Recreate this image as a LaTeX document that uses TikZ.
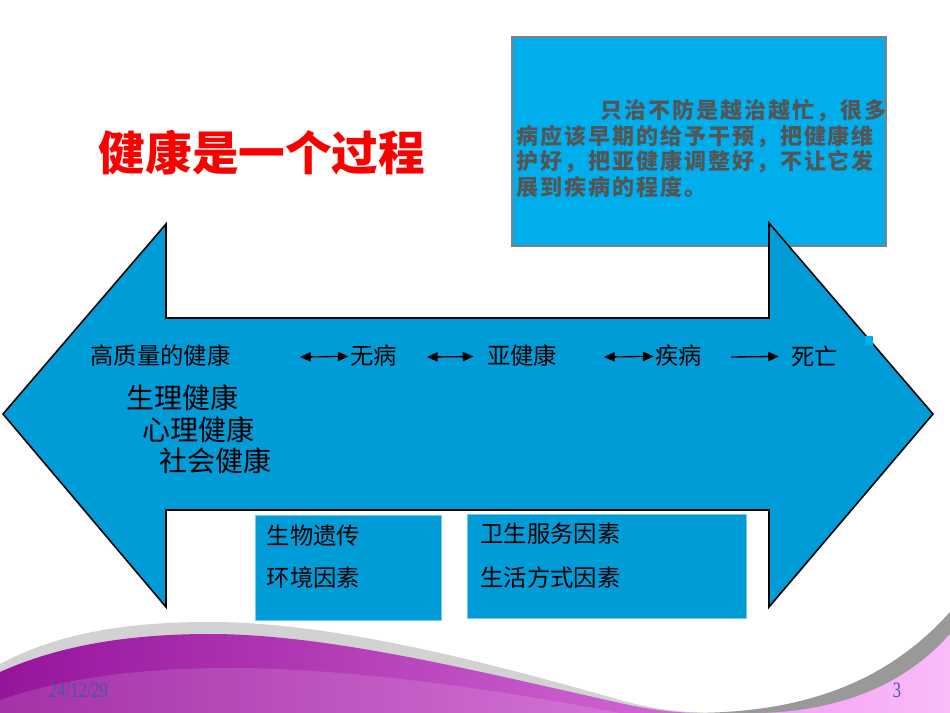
\documentclass[tikz,border=0pt]{standalone}
\usepackage{fontspec}
\setmainfont{Liberation Serif}
\newfontfamily\cjk{Noto Sans CJK SC}
\newfontfamily\cjkq[LetterSpace=9]{Noto Sans CJK SC}
\usetikzlibrary{arrows.meta}
\definecolor{arrowblue}{RGB}{0,156,216}
\definecolor{quoteblue}{RGB}{0,174,236}
\definecolor{quotegray}{RGB}{85,85,85}
\definecolor{boxedge}{RGB}{120,200,230}
\definecolor{titlered}{RGB}{250,0,0}
\definecolor{wavedark}{RGB}{150,20,155}
\definecolor{wavelight}{RGB}{212,105,215}
\definecolor{wavepink}{RGB}{245,160,245}
\definecolor{datecol}{RGB}{80,80,165}

\begin{document}
\begin{tikzpicture}[x=0.75pt, y=-0.75pt,
			>={Triangle[length=8pt, width=7pt]},
			lbl/.style={font=\cjk\fontsize{17.5}{21}\selectfont, inner sep=1pt},
			biglbl/.style={font=\cjk\fontsize{21}{25}\selectfont, inner sep=1pt},
			flow/.style={line width=1pt},
			factorbox/.style={fill=arrowblue, draw=boxedge, line width=0.6pt}]
			
			% Sfondo e cornice
			\fill[white] (0,0) rectangle (950,713);
			\useasboundingbox (0,0) rectangle (950,713);
			
			% Onda in basso
			\fill[gray!35] (0,664) .. controls (60,632) and (130,622) .. (210,622)
				.. controls (330,622) and (480,660) .. (620,700)
				.. controls (660,711) and (690,713) .. (720,713) -- (0,713) -- cycle;
			\shade[left color=wavedark, right color=wavelight] (0,672) .. controls (60,645) and (130,634) .. (210,634)
				.. controls (330,634) and (480,672) .. (620,703)
				.. controls (650,710) and (680,713) .. (700,713) -- (0,713) -- cycle;
			\fill[white, opacity=0.13] (0,700) .. controls (70,676) and (150,668) .. (230,668)
				.. controls (350,668) and (500,690) .. (620,713) -- (0,713) -- cycle;
			\fill[gray!80] (690,713) .. controls (790,713) and (880,690) .. (950,612) -- (950,713) -- cycle;
			\shade[left color=wavepink, right color=wavepink!70] (760,713) .. controls (840,711) and (905,685) .. (950,634) -- (950,713) -- cycle;
			
			% Riquadro della citazione
			\draw[fill=quoteblue, draw=gray, line width=0.8pt] (512,37) rectangle (886,246);
			\node[anchor=west, align=left, text=quotegray, inner sep=0pt,
				font=\cjkq\bfseries\fontsize{16.5}{19.3}\selectfont] (quote) at (516,148.5)
				{\hspace*{63pt}只治不防是越治越忙，很多\\
				病应该早期的给予干预，把健康维\\
				护好，把亚健康调整好，不让它发\\
				展到疾病的程度。};
			
			% Titolo
			\node[text=titlered, font=\cjk\bfseries\fontsize{35}{40}\selectfont] (title) at (262,153) {健康是一个过程};
			
			% Freccia doppia
			\draw[fill=arrowblue, line width=1.2pt, line join=miter]
				(3,414) -- (166,224) -- (166,318) -- (769,318) -- (769,223) -- (933,414)
				-- (769,607) -- (769,510) -- (166,510) -- (166,607) -- cycle;
			\fill[quoteblue] (865,336) rectangle (873,346);
			
			% Stadi della salute
			\node[lbl] (hq) at (160.5,356) {高质量的健康};
			\node[lbl] (wb) at (373.5,356) {无病};
			\node[lbl] (yjk) at (522,356) {亚健康};
			\node[lbl] (jb) at (678.5,356) {疾病};
			\node[lbl] (sw) at (814.5,356) {死亡};
			
			\coordinate (c1) at (300,357);
			\coordinate (c2) at (427,357);
			\coordinate (c3) at (604,357);
			\coordinate (c4) at (731,357);
			\draw[flow, <->] (c1) -- (wb);
			\draw[flow, <->, shorten >=9pt] (c2) -- (yjk);
			\draw[flow, <->] (c3) -- (jb);
			\draw[flow, ->, shorten >=8pt] (c4) -- (sw);
			
			\node[biglbl] (sl) at (182,398) {生理健康};
			\node[biglbl] (xl) at (198,430) {心理健康};
			\node[biglbl] (sh) at (215,461) {社会健康};
			
			% Fattori
			\draw[factorbox] (255,515) rectangle (441,620);
			\draw[factorbox] (467,514) rectangle (746,618);
			\node[lbl] (sw1) at (313.5,536) {生物遗传};
			\node[lbl] (hj) at (313.5,578) {环境因素};
			\node[lbl] (ws) at (550.5,534) {卫生服务因素};
			\node[lbl] (sh2) at (550.5,578) {生活方式因素};
			
			% Data e numero di pagina
			\node[text=datecol, font=\fontsize{16.5}{19}\selectfont] (date) at (78.5,690) {\scalebox{0.75}[1]{24/12/29}};
			\node[text=datecol, font=\fontsize{16.5}{19}\selectfont] (page) at (897,690) {\scalebox{0.75}[1]{3}};
		\end{tikzpicture}
\end{document}
